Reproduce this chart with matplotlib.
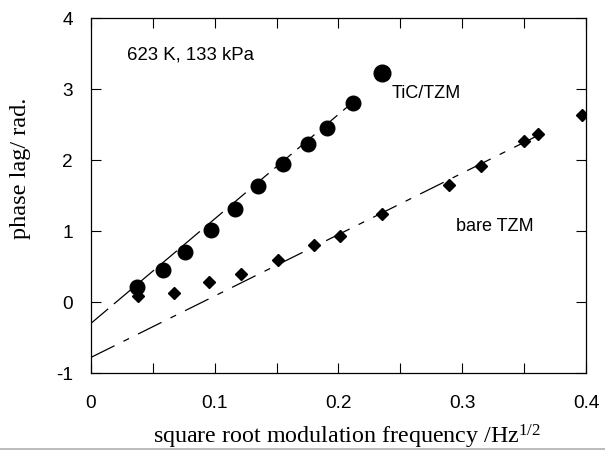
import matplotlib
matplotlib.use("Agg")
import matplotlib.pyplot as plt
from matplotlib.ticker import MultipleLocator, FuncFormatter
from matplotlib.lines import Line2D

# TiC/TZM 数据点 (圆点)
tic_x = [0.037, 0.058, 0.076, 0.097, 0.116, 0.135, 0.155, 0.175, 0.191, 0.212]
tic_y = [0.21, 0.45, 0.70, 1.02, 1.31, 1.64, 1.94, 2.23, 2.45, 2.81]
tic_big_x = [0.235]
tic_big_y = [3.23]

# bare TZM 数据点 (菱形)
bare_x = [0.038, 0.067, 0.095, 0.121, 0.151, 0.180, 0.201, 0.235, 0.289, 0.315, 0.350, 0.361, 0.397]
bare_y = [0.08, 0.13, 0.28, 0.40, 0.59, 0.80, 0.93, 1.24, 1.65, 1.92, 2.27, 2.36, 2.63]

# 拟合直线的端点
tic_fit_x = [0.0, 0.212]
tic_fit_y = [-0.30, 2.82]
bare_fit_x = [0.0, 0.364]
bare_fit_y = [-0.78, 2.37]

sans = "Liberation Sans"
serif = "Liberation Serif"

plt.rcParams["axes.unicode_minus"] = False
plt.rcParams["mathtext.fontset"] = "custom"
plt.rcParams["mathtext.rm"] = serif
plt.rcParams["mathtext.it"] = serif + ":italic"

fig = plt.figure(figsize=(6.05, 4.51), dpi=100)
ax = fig.add_axes([0.1504, 0.1729, 0.8182, 0.7871])

ax.plot(tic_fit_x, tic_fit_y, color="black", linewidth=0.9, dashes=(18, 6))
ax.plot(bare_fit_x, bare_fit_y, color="black", linewidth=0.9, dashes=(21, 8, 5, 8))
ax.plot(tic_x, tic_y, "o", color="black", markersize=10.5, linestyle="none")
ax.plot(tic_big_x, tic_big_y, "o", color="black", markersize=12, linestyle="none")
ax.plot(bare_x, bare_y, "D", color="black", markersize=6.5, linestyle="none")

ax.text(0.029, 3.48, "623 K, 133 kPa", fontsize=13.4, family=sans, va="center", ha="left")
ax.text(0.243, 2.94, "TiC/TZM", fontsize=13, family=sans, va="center", ha="left")
ax.text(0.295, 1.06, "bare TZM", fontsize=13, family=sans, va="center", ha="left")

ax.set_xlim(0, 0.4)
ax.set_ylim(-1, 4)
ax.xaxis.set_major_locator(MultipleLocator(0.1))
ax.xaxis.set_minor_locator(MultipleLocator(0.05))
ax.yaxis.set_major_locator(MultipleLocator(1))
ax.xaxis.set_major_formatter(FuncFormatter(lambda v, p: "0" if abs(v) < 1e-9 else "%.1f" % v))
ax.tick_params(axis="both", which="both", direction="in", top=True, right=True, length=7, width=0.8)
ax.tick_params(axis="x", which="major", pad=16, labelsize=13.7)
ax.tick_params(axis="y", which="major", pad=13, labelsize=13.7)
for lab in ax.get_xticklabels() + ax.get_yticklabels():
    lab.set_family(sans)

ax.set_xlabel("square root modulation frequency /Hz$^{\\mathrm{1/2}}$", fontsize=17.3, family=serif, va="center")
ax.set_ylabel("phase lag/ rad.", fontsize=17.5, family=serif, va="center")
ax.xaxis.set_label_coords(0.517, -0.18)
ax.yaxis.set_label_coords(-0.143, 0.577)

for s in ax.spines.values():
    s.set_linewidth(0.9)

# 底部灰线
fig.add_artist(Line2D([0, 1], [0.004, 0.004], transform=fig.transFigure, color="#b0b0b0", linewidth=1.2))

fig.savefig("out.png", dpi=100)
